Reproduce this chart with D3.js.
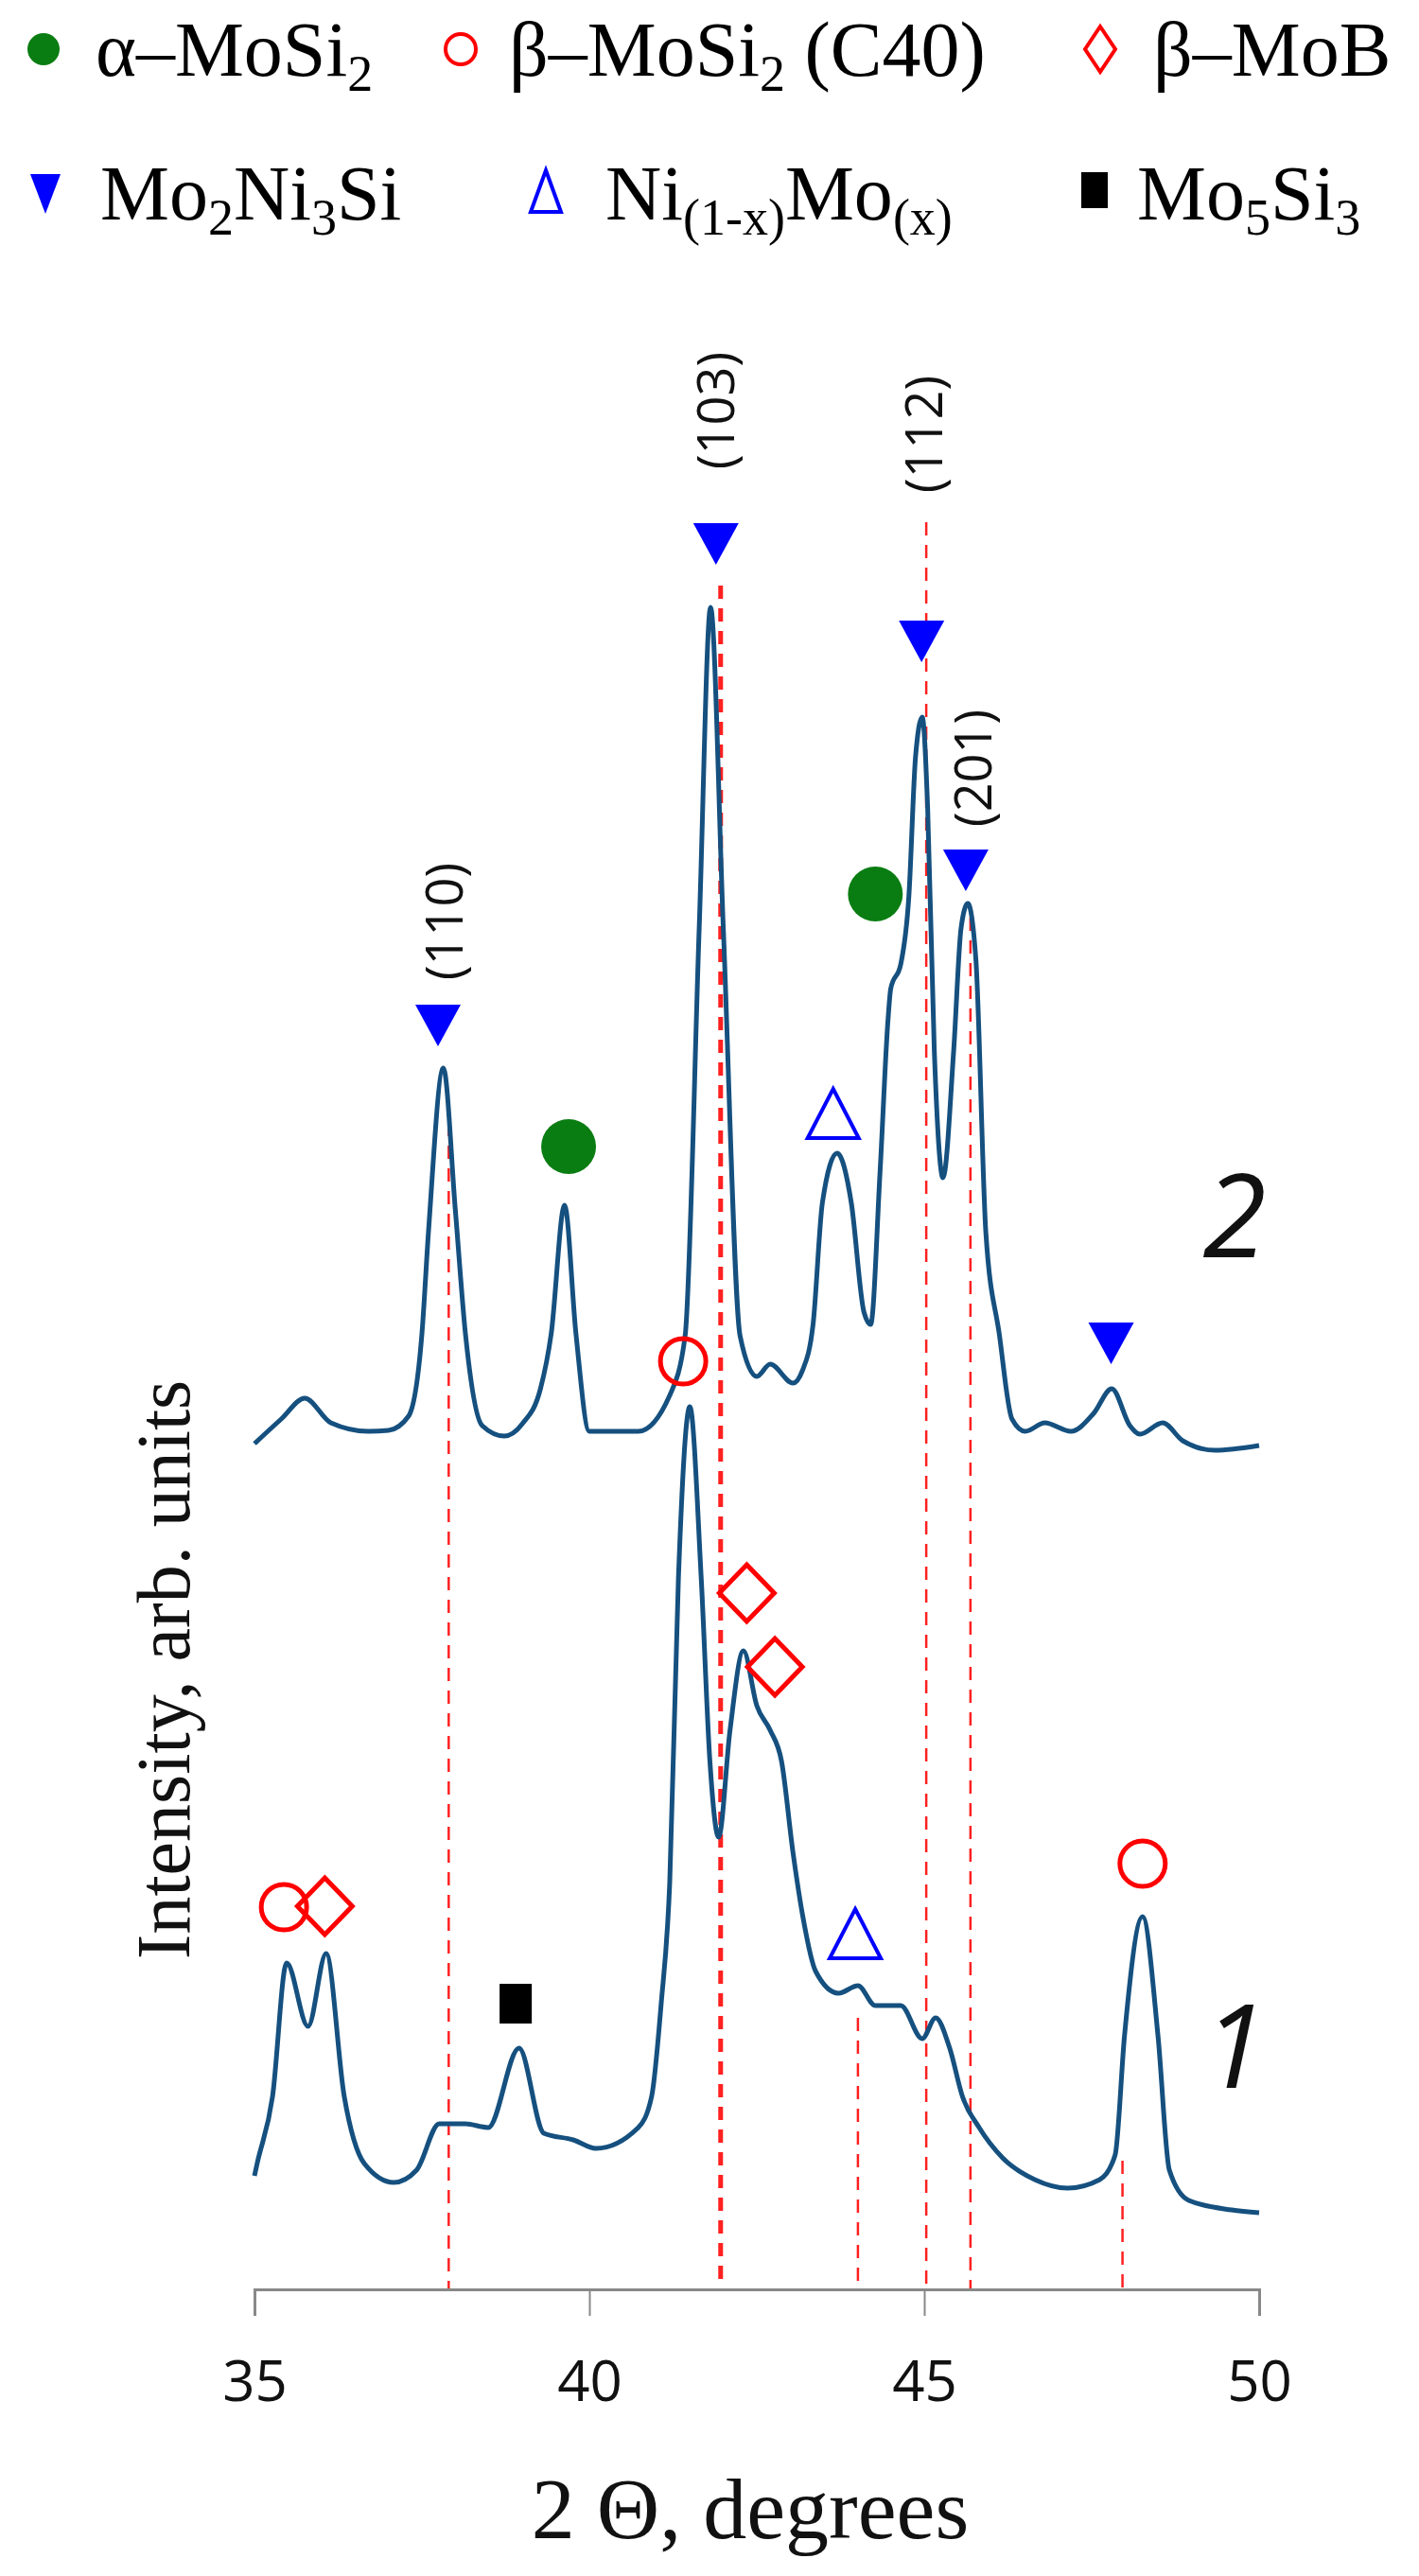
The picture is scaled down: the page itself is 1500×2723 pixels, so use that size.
<!DOCTYPE html>
<html><head><meta charset="utf-8">
<script src="https://cdn.jsdelivr.net/npm/d3@7"></script>
<style>body{margin:0;background:#fff}</style></head>
<body><svg id="c" width="1500" height="2723"></svg>
<script>
const xTicks=[35,40,45,50];
// curve 1 (lower pattern)
const theta1=[35.0,35.04,35.27,35.48,35.8,36.07,36.34,36.64,37.08,37.42,37.76,38.15,38.49,38.95,39.32,39.76,40.1,40.73,40.93,41.07,41.2,41.33,41.5,41.67,41.8,41.93,42.1,42.3,42.5,42.7,42.87,43.04,43.18,43.38,43.72,44.01,44.27,44.65,44.97,45.17,45.38,45.57,45.82,46.17,46.65,47.14,47.62,47.85,47.99,48.26,48.49,48.66,48.95,49.59,50.0];
const int1=[120,133,204,345,278,355,204,133,113,126,175,175,171,255,165,158,149,171,204,300,430,752,933,752,558,478,591,675,617,591,558,462,397,336,313,321,300,300,265,287,255,204,171,139,116,107,116,142,268,394,268,126,94,84,81];
// curve 2 (upper pattern)
const theta2=[35.0,35.4,35.75,36.14,36.7,37.0,37.3,37.5,37.6,37.82,38.0,38.15,38.4,38.73,39.0,39.27,39.43,39.63,39.8,40.0,40.73,41.2,41.43,41.64,41.81,42.0,42.25,42.5,42.7,43.04,43.18,43.34,43.48,43.7,43.91,44.1,44.2,44.34,44.46,44.5,44.65,44.77,44.87,44.97,45.05,45.15,45.28,45.44,45.55,45.65,45.77,45.92,46.12,46.31,46.51,46.8,47.19,47.53,47.8,48.07,48.22,48.56,48.86,49.34,50.0];
const int2=[894,920,942,916,907,908,923,1010,1120,1291,1140,1010,913,902,915,952,1010,1146,1010,907,907,945,1008,1439,1778,1439,1008,965,978,958,971,1020,1149,1201,1149,1033,1020,1181,1343,1375,1401,1472,1620,1662,1568,1310,1175,1310,1439,1465,1407,1117,1010,920,907,916,907,926,952,913,904,916,897,887,892];
// phase markers [2θ, intensity]
const alphaPts=[[39.69,1208],[44.27,1475]];
const betaPts=[[41.4,981],[35.44,404],[48.26,450]];
const mobPts=[[36.05,405],[42.35,736],[42.77,658]];
const mo2Pts=[[37.74,1336],[41.89,1845],[44.96,1742],[45.62,1500],[47.79,1000]];
const niPts=[[43.64,1242],[43.97,375]];
const mo5Pts=[[38.9,302]];
// reference lines [2θ, top intensity]
const refLines=[[37.9,1233],[41.96,1801],[44.01,287],[45.03,1868],[45.69,1450],[47.96,136]];
const hkl=[["(110)",37.81,1446],["(103)",41.86,1986],["(112)",44.97,1961],["(201)",45.71,1608]];

const svg=d3.select("#c");
const x=d3.scaleLinear().domain([35,50]).range([269,1331]);
const y=d3.scaleLinear().domain([0,2420]).range([2420,0]);

svg.selectAll(".rl").data(refLines).enter().append("line")
 .attr("x1",d=>x(d[0])).attr("x2",d=>x(d[0])).attr("y1",d=>y(d[1])).attr("y2",y(0))
 .attr("stroke","#ff2020").attr("stroke-width",(d,i)=>i==1?5:2.5).attr("stroke-dasharray","14,10");

const ax=svg.append("g").attr("transform",`translate(0,${y(0)})`)
 .call(d3.axisBottom(x).tickValues(xTicks).tickSize(28).tickPadding(47).tickFormat(d3.format("d")));
ax.select(".domain").attr("stroke","#888").attr("stroke-width",3);
ax.selectAll(".tick line").attr("stroke","#888").attr("stroke-width",2);
ax.selectAll(".tick text").attr("font-family","Open Sans").attr("font-size",60).attr("fill","#111");

const line=d3.line().x(d=>x(d[0])).y(d=>y(d[1])).curve(d3.curveMonotoneX);
[[theta1,int1],[theta2,int2]].forEach(([t,v])=>{
 svg.append("path").datum(t.map((a,i)=>[a,v[i]])).attr("d",line)
  .attr("fill","none").attr("stroke","#15507f").attr("stroke-width",5).attr("stroke-linejoin","round");
});

svg.selectAll(".ga").data(alphaPts).enter().append("circle").attr("cx",d=>x(d[0])).attr("cy",d=>y(d[1])).attr("r",29).attr("fill","#0a7d12");
svg.selectAll(".bb").data(betaPts).enter().append("circle").attr("cx",d=>x(d[0])).attr("cy",d=>y(d[1])).attr("r",24).attr("fill","none").attr("stroke","#ff0000").attr("stroke-width",5);
svg.selectAll(".dm").data(mobPts).enter().append("path").attr("transform",d=>`translate(${x(d[0])},${y(d[1])})`).attr("d","M0,-30L29,0L0,30L-29,0Z").attr("fill","none").attr("stroke","#ff0000").attr("stroke-width",5);
svg.selectAll(".tf").data(mo2Pts).enter().append("path").attr("transform",d=>`translate(${x(d[0])},${y(d[1])})`).attr("d","M-24,-22L24,-22L0,22Z").attr("fill","#0000ff");
svg.selectAll(".to").data(niPts).enter().append("path").attr("transform",d=>`translate(${x(d[0])},${y(d[1])})`).attr("d","M0,-27L27,25L-27,25Z").attr("fill","none").attr("stroke","#0000ff").attr("stroke-width",4);
svg.selectAll(".sq").data(mo5Pts).enter().append("rect").attr("x",d=>x(d[0])-17).attr("y",d=>y(d[1])-21).attr("width",34).attr("height",42).attr("fill","#000");

svg.selectAll(".hk").data(hkl).enter().append("text")
 .attr("transform",d=>`translate(${x(d[1])},${y(d[2])}) rotate(-90)`)
 .attr("text-anchor","middle").attr("dominant-baseline","central").attr("font-family","Open Sans").attr("font-size",54).attr("fill","#111").text(d=>d[0]);

svg.append("text").attr("x",1305).attr("y",1329).attr("text-anchor","middle").attr("font-family","Open Sans").attr("font-style","italic").attr("font-size",122).attr("fill","#111").text("2");
svg.append("text").attr("x",1305).attr("y",2207).attr("text-anchor","middle").attr("font-family","Open Sans").attr("font-style","italic").attr("font-size",122).attr("fill","#111").text("1");

svg.append("text").attr("transform","translate(200,1765) rotate(-90)").attr("text-anchor","middle").attr("font-family","Liberation Serif").attr("font-size",80).attr("fill","#111").text("Intensity, arb. units");
svg.append("text").attr("x",793).attr("y",2683).attr("text-anchor","middle").attr("font-family","Liberation Serif").attr("font-size",92).attr("fill","#111").text("2 Θ, degrees");

function legText(xp,yp,parts){
 const t=svg.append("text").attr("x",xp).attr("y",yp).attr("font-family","Liberation Serif").attr("font-size",82).attr("fill","#000");
 parts.forEach((p,i)=>{const s=t.append("tspan").text(p[0]);const prev=i>0&&parts[i-1][1];
  if(p[1]) s.attr("font-size",54);
  s.attr("dy", p[1]&&!prev?16:(!p[1]&&prev?-16:0));});
}
const r1=80,r2=232;
svg.append("circle").attr("cx",46).attr("cy",r1-28).attr("r",17).attr("fill","#0a7d12");
legText(101,r1,[["α–MoSi"],["2",1]]);
svg.append("circle").attr("cx",487).attr("cy",r1-28).attr("r",16).attr("fill","none").attr("stroke","#ff0000").attr("stroke-width",4);
legText(538,r1,[["β–MoSi"],["2",1],[" (C40)"]]);
svg.append("path").attr("transform",`translate(1163,${r1-28})`).attr("d","M0,-24L16,0L0,24L-16,0Z").attr("fill","none").attr("stroke","#ff0000").attr("stroke-width",4);
legText(1219,r1,[["β–MoB"]]);
svg.append("path").attr("transform",`translate(48,${r2-28})`).attr("d","M-16,-20L16,-20L0,22Z").attr("fill","#0000ff");
legText(106,r2,[["Mo"],["2",1],["Ni"],["3",1],["Si"]]);
svg.append("path").attr("transform",`translate(577,${r2-28})`).attr("d","M0,-24L16,20L-16,20Z").attr("fill","none").attr("stroke","#0000ff").attr("stroke-width",4);
legText(640,r2,[["Ni"],["(1-x)",1],["Mo"],["(x)",1]]);
svg.append("rect").attr("x",1143).attr("y",r2-50).attr("width",28).attr("height",38).attr("fill","#000");
legText(1202,r2,[["Mo"],["5",1],["Si"],["3",1]]);
</script></body></html>
